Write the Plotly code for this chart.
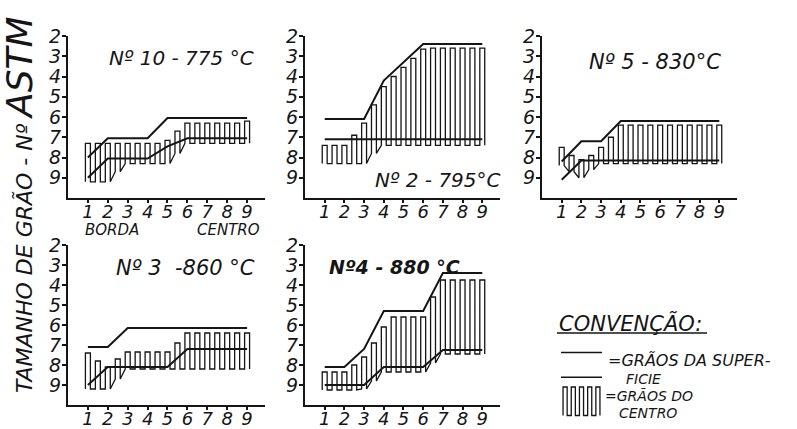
import plotly.graph_objects as go

# ---------------- data ----------------
SURF_X = [1, 2, 3, 4, 5, 6, 7, 8, 9]
PULSE_X = [1, 1.5, 2, 2.5, 3, 3.5, 4, 4.5, 5, 5.5, 6, 6.5, 7, 7.5, 8, 8.5, 9]
Y_TICKS = [2, 3, 4, 5, 6, 7, 8, 9]
X_TICKS = [1, 2, 3, 4, 5, 6, 7, 8, 9]

TITLES = ["Nº 10 - 775 °C", "Nº 2 - 795°C", "Nº 5 - 830°C", "Nº 3  -860 °C", "<b>Nº4 - 880 °C</b>"]

# Nº 10 - 775 °C
P1_SURF_TOP = [8.0, 7.05, 7.05, 7.05, 6.05, 6.05, 6.05, 6.05, 6.05]
P1_SURF_BOT = [9.0, 8.05, 8.05, 8.05, 7.45, 7.05, 7.05, 7.05, 7.05]
P1_CTR_TOP = [7.3, 7.3, 7.3, 7.3, 7.3, 7.3, 7.3, 7.3, 7.15, 6.7, 6.3, 6.3, 6.3, 6.3, 6.3, 6.3, 6.2]
P1_CTR_BOT = [9.2, 9.2, 9.2, 8.7, 8.3, 8.3, 8.3, 8.3, 8.3, 7.8, 7.3, 7.3, 7.3, 7.3, 7.3, 7.3, 7.3]

# Nº 2 - 795 °C
P2_SURF_TOP = [6.1, 6.1, 6.1, 4.2, 3.3, 2.4, 2.4, 2.4, 2.4]
P2_SURF_BOT = [7.1, 7.1, 7.1, 7.1, 7.1, 7.1, 7.1, 7.1, 7.1]
P2_CTR_TOP = [7.4, 7.4, 7.4, 6.9, 6.3, 5.4, 4.5, 4.0, 3.55, 3.1, 2.65, 2.6, 2.6, 2.6, 2.6, 2.6, 2.6]
P2_CTR_BOT = [8.3, 8.3, 8.3, 8.3, 8.3, 7.8, 7.4, 7.4, 7.4, 7.4, 7.4, 7.4, 7.4, 7.4, 7.4, 7.4, 7.4]

# Nº 5 - 830 °C
P3_SURF_TOP = [8.2, 7.2, 7.2, 6.2, 6.2, 6.2, 6.2, 6.2, 6.2]
P3_SURF_BOT = [9.1, 8.15, 8.15, 8.15, 8.15, 8.15, 8.15, 8.15, 8.15]
P3_CTR_TOP = [7.5, 7.9, 8.1, 7.9, 7.5, 7.0, 6.4, 6.4, 6.4, 6.4, 6.4, 6.4, 6.4, 6.4, 6.4, 6.4, 6.4]
P3_CTR_BOT = [8.4, 8.7, 9.0, 8.6, 8.3, 8.3, 8.3, 8.3, 8.3, 8.3, 8.3, 8.3, 8.3, 8.3, 8.3, 8.3, 8.3]

# Nº 3 - 860 °C
P4_SURF_TOP = [7.1, 7.1, 6.15, 6.15, 6.15, 6.15, 6.15, 6.15, 6.15]
P4_SURF_BOT = [9.0, 8.1, 8.1, 8.1, 8.1, 7.2, 7.2, 7.2, 7.2]
P4_CTR_TOP = [7.4, 7.8, 8.1, 7.7, 7.35, 7.35, 7.35, 7.35, 7.35, 6.9, 6.4, 6.4, 6.4, 6.4, 6.4, 6.4, 6.4]
P4_CTR_BOT = [9.2, 9.2, 9.2, 8.7, 8.2, 8.2, 8.2, 8.2, 8.2, 8.2, 8.2, 8.2, 8.2, 8.2, 8.2, 8.2, 8.2]

# Nº 4 - 880 °C
P5_SURF_TOP = [8.1, 8.1, 7.2, 5.3, 5.3, 5.3, 3.4, 3.4, 3.4]
P5_SURF_BOT = [9.0, 9.0, 9.0, 8.1, 8.1, 8.1, 7.25, 7.25, 7.25]
P5_CTR_TOP = [8.35, 8.35, 8.35, 8.0, 7.6, 6.9, 6.1, 5.6, 5.6, 5.6, 5.6, 4.6, 3.75, 3.75, 3.75, 3.75, 3.75]
P5_CTR_BOT = [9.25, 9.25, 9.25, 9.25, 9.2, 8.8, 8.35, 8.35, 8.35, 8.35, 8.35, 7.9, 7.45, 7.45, 7.45, 7.45, 7.45]

# legend key samples
LEG_SURF = [1.0, 4.3]
LEG_PULSE_X = [0.5, 1.5, 2.5, 3.5, 4.5]
LEG_PULSE_TOP = [5.6, 5.6, 5.6, 5.6, 5.6]
LEG_PULSE_BOT = [9.4, 9.4, 9.4, 9.4, 9.4]

PANELS = [
    (P1_SURF_TOP, P1_SURF_BOT, P1_CTR_TOP, P1_CTR_BOT),
    (P2_SURF_TOP, P2_SURF_BOT, P2_CTR_TOP, P2_CTR_BOT),
    (P3_SURF_TOP, P3_SURF_BOT, P3_CTR_TOP, P3_CTR_BOT),
    (P4_SURF_TOP, P4_SURF_BOT, P4_CTR_TOP, P4_CTR_BOT),
    (P5_SURF_TOP, P5_SURF_BOT, P5_CTR_TOP, P5_CTR_BOT),
]

# ---------------- layout geometry (pixels) ----------------
W, H = 797, 429
INK = "#151515"
FONT = "DejaVu Sans"
X_DOM_PX = [(68, 265), (305, 500), (542, 737), (68, 265), (305, 500)]
Y_DOM_PX = [(36, 198), (36, 198), (36, 198), (245, 405), (245, 405)]


def px_x(p):
    return p / W


def px_y(p):
    return 1 - p / H


def wave(xs, tops, bots, w):
    wx, wy = [], []
    for x, t, b in zip(xs, tops, bots):
        wx += [x - w / 2, x - w / 2, x + w / 2, x + w / 2]
        wy += [b, t, t, b]
    return wx, wy


fig = go.Figure()

for i, (st, sb, ct, cb) in enumerate(PANELS):
    k = "" if i == 0 else str(i + 1)
    xa, ya = "x" + k, "y" + k
    wx, wy = wave(PULSE_X, ct, cb, 0.25)
    fig.add_trace(go.Scatter(x=wx, y=wy, xaxis=xa, yaxis=ya, mode="lines",
                             line=dict(color=INK, width=1.3), hoverinfo="skip", showlegend=False))
    for s in (st, sb):
        fig.add_trace(go.Scatter(x=SURF_X, y=s, xaxis=xa, yaxis=ya, mode="lines",
                                 line=dict(color=INK, width=2), hoverinfo="skip", showlegend=False))
    x0, x1 = X_DOM_PX[i]
    y0, y1 = Y_DOM_PX[i]
    fig.layout["xaxis" + k] = dict(
        domain=[px_x(x0), px_x(x1)], range=[0, 9.9], anchor=ya, automargin=False,
        showline=True, linecolor=INK, linewidth=2, showgrid=False, zeroline=False,
        ticks="outside", ticklen=3, tickwidth=1.5, tickcolor=INK, ticklabelstandoff=-7,
        tickvals=X_TICKS, ticktext=[str(v) for v in X_TICKS],
        tickfont=dict(family=FONT, size=18, color=INK, style="italic"), fixedrange=True)
    fig.layout["yaxis" + k] = dict(
        domain=[px_y(y1), px_y(y0)], range=[10, 2], anchor=xa, automargin=False,
        showline=True, linecolor=INK, linewidth=2, showgrid=False, zeroline=False,
        ticks="outside", ticklen=4, tickwidth=1.5, tickcolor=INK, ticklabelstandoff=-3,
        tickvals=Y_TICKS, ticktext=[str(v) for v in Y_TICKS],
        tickfont=dict(family=FONT, size=19, color=INK, style="italic"), fixedrange=True)

# legend key on a hidden axis pair
for s in LEG_SURF:
    fig.add_trace(go.Scatter(x=[0, 5], y=[s, s], xaxis="x6", yaxis="y6", mode="lines",
                             line=dict(color=INK, width=1.5), hoverinfo="skip", showlegend=False))
lx, ly = wave(LEG_PULSE_X, LEG_PULSE_TOP, LEG_PULSE_BOT, 0.5)
fig.add_trace(go.Scatter(x=lx, y=ly, xaxis="x6", yaxis="y6", mode="lines",
                         line=dict(color=INK, width=1.3), hoverinfo="skip", showlegend=False))
fig.layout["xaxis6"] = dict(domain=[px_x(561), px_x(602)], range=[0, 5], anchor="y6",
                            visible=False, automargin=False)
fig.layout["yaxis6"] = dict(domain=[px_y(420), px_y(345)], range=[10, 0], anchor="x6",
                            visible=False, automargin=False)

ann = []


def text(t, x, y, size, anchor="center", angle=0):
    ann.append(dict(text=t, x=px_x(x), y=px_y(y), xref="paper", yref="paper",
                    xanchor=anchor, yanchor="middle", showarrow=False, textangle=angle,
                    font=dict(family=FONT, size=size, color=INK, style="italic")))


TITLE_POS = [(181, 58), (438, 180), (655, 62), (185, 268), (394, 267)]
TITLE_SIZE = [20, 20, 21, 21, 19]
for t, (x, y), s in zip(TITLES, TITLE_POS, TITLE_SIZE):
    text(t, x, y, s)

text("BORDA", 112, 230, 15)
text("CENTRO", 229, 230, 15)
text("TAMANHO DE GRÃO - Nº <span style='font-size:36px'>ASTM</span>", 20, 205, 22, angle=-90)
text("CONVENÇÃO:", 557, 323, 21, anchor="left")
text("=GRÃOS DA SUPER-", 606, 360, 16, anchor="left")
text("FICIE", 624, 379, 14, anchor="left")
text("=GRÃOS DO", 603, 396, 14, anchor="left")
text("CENTRO", 617, 413, 14, anchor="left")

fig.update_layout(
    width=W, height=H, margin=dict(l=0, r=0, t=0, b=0, autoexpand=False),
    paper_bgcolor="white", plot_bgcolor="white", showlegend=False,
    annotations=ann,
    shapes=[dict(type="line", xref="paper", yref="paper", x0=px_x(557), x1=px_x(707),
                 y0=px_y(333), y1=px_y(333), line=dict(color=INK, width=1.5))],
)

fig.write_html("out.html")
